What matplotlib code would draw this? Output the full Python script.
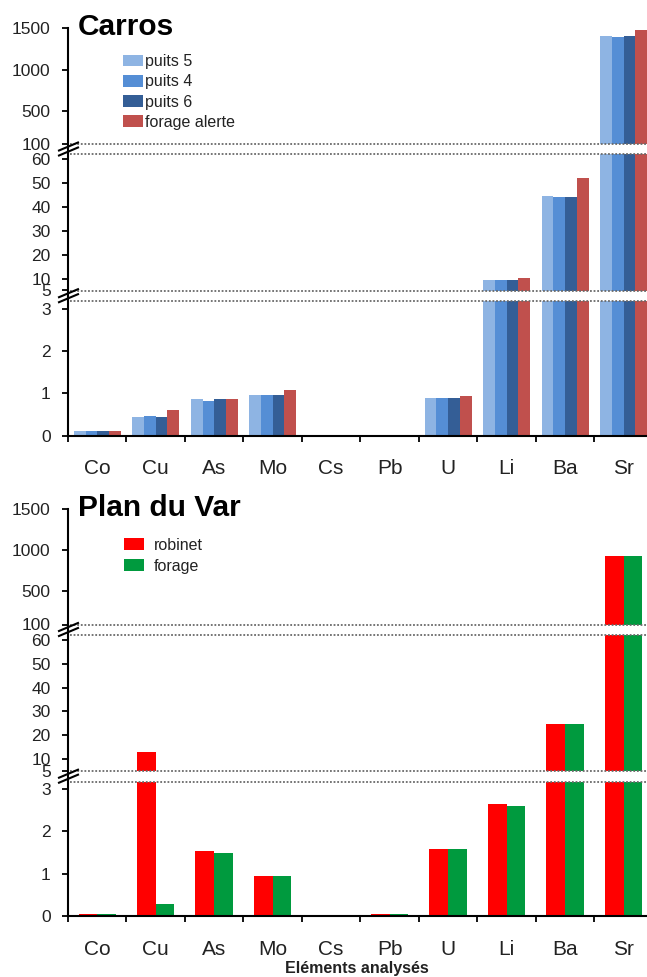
import numpy as np
import matplotlib.pyplot as plt
from matplotlib.lines import Line2D

plt.rcParams['font.family'] = ['Liberation Sans', 'DejaVu Sans']

# donnees
elements = ["Co", "Cu", "As", "Mo", "Cs", "Pb", "U", "Li", "Ba", "Sr"]

carros_labels = ["puits 5", "puits 4", "puits 6", "forage alerte"]
puits5 = [0.10, 0.43, 0.86, 0.96, 0.0, 0.02, 0.90, 9.5, 44.6, 1405]
puits4 = [0.10, 0.47, 0.83, 0.96, 0.0, 0.02, 0.90, 9.5, 44.1, 1390]
puits6 = [0.10, 0.43, 0.86, 0.96, 0.0, 0.02, 0.90, 9.5, 44.1, 1410]
forage_alerte = [0.10, 0.60, 0.86, 1.08, 0.0, 0.02, 0.94, 10.2, 52.4, 1480]
carros_colors = ["#8EB4E3", "#558ED5", "#345E96", "#C0504D"]

var_labels = ["robinet", "forage"]
robinet = [0.06, 13.1, 1.55, 0.96, 0.0, 0.06, 1.59, 2.65, 24.7, 930]
forage = [0.06, 0.28, 1.49, 0.96, 0.0, 0.06, 1.59, 2.61, 24.7, 930]
var_colors = ["#FF0000", "#009A3E"]

# segments de l'axe coupe (bas, milieu, haut)
seg_limits = [(0, 3.18), (5, 62.3), (100, 1500)]
seg_ticks = [[0, 1, 2, 3], [5, 10, 20, 30, 40, 50, 60], [100, 500, 1000, 1500]]
# positions en pixels (haut, bas) de chaque segment pour le premier panneau
seg_px = [(301, 435.7), (154, 290.5), (28.3, 144)]

W, H = 647, 977
X0 = 68
TXT = "#222222"

fig = plt.figure(figsize=(W / 100, H / 100), dpi=100)


def fx(px):
    return px / W


def fy(py):
    return 1 - py / H


def line_px(x1, y1, x2, y2, **kw):
    fig.add_artist(Line2D([fx(x1), fx(x2)], [fy(y1), fy(y2)], **kw))


def panel(offset, series, labels, colors, title, leg_anchor, textpad, spacing):
    n = len(series)
    width = 0.8 / n if n > 2 else 0.32
    x = np.arange(len(elements))
    axes = []
    for i, ((top, bot), lim, ticks) in enumerate(zip(seg_px, seg_limits, seg_ticks)):
        ax = fig.add_axes([fx(X0), fy(bot + offset), 1 - fx(X0), (bot - top) / H])
        bars = []
        for k, (vals, lab, col) in enumerate(zip(series, labels, colors)):
            pos = x + (k - (n - 1) / 2) * width
            bars.append(ax.bar(pos, vals, width, color=col, label=lab, zorder=2))
        ax.set_xlim(-0.5, 9.4)
        ax.set_ylim(*lim)
        ax.set_yticks(ticks)
        ax.set_yticklabels([str(t) for t in ticks])
        ax.tick_params(axis='y', direction='out', length=4.5, width=1.3, pad=8,
                       labelsize=12.5, labelcolor=TXT, color='black')
        for s in ['top', 'right', 'left']:
            ax.spines[s].set_visible(False)
        if i == 0:
            ax.spines['bottom'].set_linewidth(1.5)
            ax.set_xticks(x)
            ax.set_xticklabels(elements)
            ax.set_xticks(np.arange(-0.5, 9.5, 1), minor=True)
            ax.tick_params(axis='x', which='major', length=0, pad=17,
                           labelsize=15, labelcolor=TXT)
            ax.tick_params(axis='x', which='minor', direction='out', length=4.5,
                           width=1.3, color='black')
        else:
            ax.spines['bottom'].set_visible(False)
            ax.set_xticks([])
        ax.patch.set_alpha(0)
        axes.append((ax, bars))

    # lignes pointillees des coupures
    for py in [144, 154, 290.5, 301]:
        line_px(X0 + 2, py + offset, W, py + offset, color='#6A6A6A', lw=1.3,
                linestyle=(0, (1, 1)), zorder=5)

    # axe vertical continu
    line_px(X0, seg_px[2][0] + offset, X0, seg_px[0][1] + offset, color='black',
            lw=1.5, zorder=6)

    # marques de coupure //
    for yc in [149, 295.7]:
        for d in (-2.5, 2.5):
            line_px(59, yc + 4 + d + offset, 78, yc - 4 + d + offset,
                    color='black', lw=1.5, zorder=7)

    fig.text(fx(78), fy(27 + offset), title, fontsize=21.5, fontweight='bold',
             va='center', ha='left', color='black')

    top_ax, top_bars = axes[2]
    fig.legend([b[0] for b in top_bars], labels, loc='upper left',
               bbox_to_anchor=(fx(leg_anchor[0]), fy(leg_anchor[1] + offset)),
               frameon=False, fontsize=11.5, handlelength=1.25, handleheight=0.75,
               handletextpad=textpad, labelspacing=spacing, borderpad=0,
               borderaxespad=0, labelcolor=TXT)


panel(0, [puits5, puits4, puits6, forage_alerte], carros_labels, carros_colors,
      "Carros", (123, 54), 0.12, 0.33)
panel(480.5, [robinet, forage], var_labels, var_colors,
      "Plan du Var", (124, 57), 0.6, 0.38)

fig.text(fx(357), fy(968), "Eléments analysés", fontsize=11.5, fontweight='bold',
         ha='center', va='center', color=TXT)

fig.savefig("out.png", dpi=100)
